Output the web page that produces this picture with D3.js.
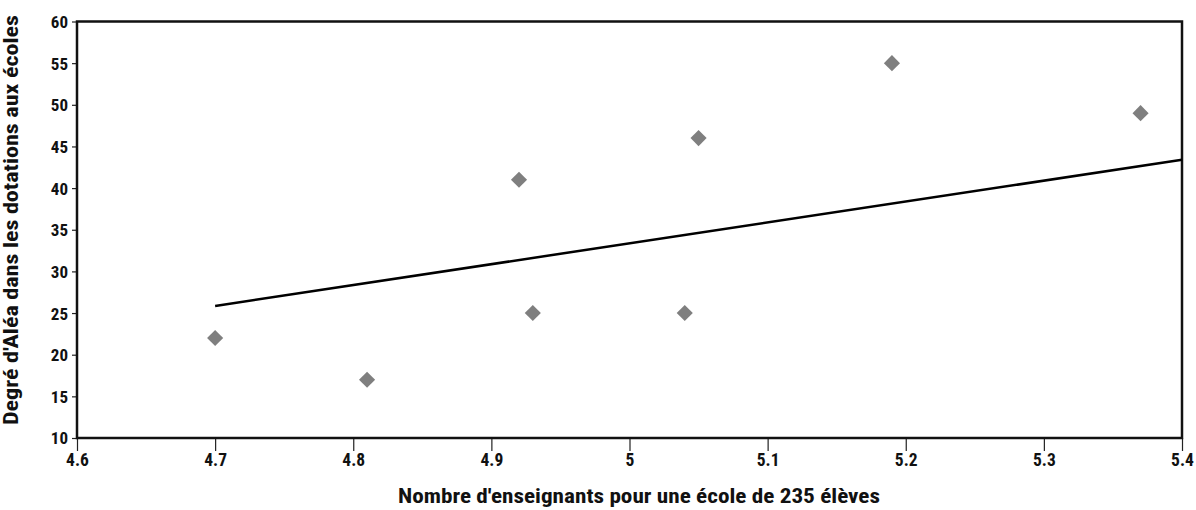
<!DOCTYPE html>
<html>
<head>
<meta charset="utf-8">
<script src="https://cdn.jsdelivr.net/npm/d3@7"></script>
<style>
  body { margin: 0; background: #fff; }
  svg text { font-family: "Liberation Sans Narrow", "Roboto Condensed", "Arial Narrow", "Liberation Sans", sans-serif; font-weight: bold; fill: #111; }
</style>
</head>
<body>
<div class="chart"></div>
<script>
// teachers per school of 235 pupils vs randomness in school allocations
var teachers = [4.70, 4.81, 4.92, 4.93, 5.04, 5.05, 5.19, 5.37];
var randomness = [22, 17, 41, 25, 25, 46, 55, 49];
var trendX = [4.70, 5.40];
var trendY = [25.85, 43.4];
var xTicks = [4.6, 4.7, 4.8, 4.9, 5, 5.1, 5.2, 5.3, 5.4];
var yTicks = [10, 15, 20, 25, 30, 35, 40, 45, 50, 55, 60];

var chart = {
  width: 1196,
  height: 510,
  margin: {top: 21.5, right: 14, bottom: 72, left: 77},
  draw(){
    var m = chart.margin;
    var svg = d3.select('.chart').append('svg')
      .attr('width', chart.width)
      .attr('height', chart.height);

    var x = d3.scaleLinear().domain([4.6, 5.4]).range([m.left, chart.width - m.right]);
    var y = d3.scaleLinear().domain([10, 60]).range([chart.height - m.bottom, m.top]);

    // x axis, long ticks hanging below the frame
    var gx = svg.append('g')
      .attr('transform', 'translate(0,' + y(10) + ')')
      .call(d3.axisBottom(x).tickValues(xTicks).tickSize(13).tickPadding(3)
        .tickFormat(function(d){ return d3.format('')(+d.toFixed(1)); }));
    gx.select('.domain').remove();
    gx.selectAll('.tick line').attr('stroke', '#222').attr('stroke-width', 1.2);
    gx.selectAll('.tick text').attr('font-size', 17.5);

    var gy = svg.append('g')
      .attr('transform', 'translate(' + x(4.6) + ',0)')
      .call(d3.axisLeft(y).tickValues(yTicks).tickSize(5).tickPadding(4));
    gy.select('.domain').remove();
    gy.selectAll('.tick line').attr('stroke', '#222').attr('stroke-width', 1.2);
    gy.selectAll('.tick text').attr('font-size', 17).attr('dy', '0.35em');

    // frame
    svg.append('rect')
      .attr('x', x(4.6)).attr('y', y(60))
      .attr('width', x(5.4) - x(4.6))
      .attr('height', y(10) - y(60))
      .attr('fill', 'none')
      .attr('stroke', '#111')
      .attr('stroke-width', 2.5);

    // trend line
    svg.append('line')
      .attr('x1', x(trendX[0])).attr('y1', y(trendY[0]))
      .attr('x2', x(trendX[1])).attr('y2', y(trendY[1]))
      .attr('stroke', '#000')
      .attr('stroke-width', 2.5);

    // diamonds
    svg.append('g').selectAll('path')
      .data(teachers)
      .join('path')
      .attr('d', d3.symbol(d3.symbolSquare, 130))
      .attr('transform', function(d, i){ return 'translate(' + x(d) + ',' + y(randomness[i]) + ') rotate(45)'; })
      .attr('fill', '#7f7f7f');

    // axis titles
    svg.append('text')
      .attr('x', 639)
      .attr('y', 503)
      .attr('text-anchor', 'middle')
      .attr('font-size', 20)
      .attr('textLength', 482)
      .attr('lengthAdjust', 'spacingAndGlyphs')
      .text("Nombre d'enseignants pour une école de 235 élèves");

    svg.append('text')
      .attr('transform', 'translate(18,220) rotate(-90)')
      .attr('text-anchor', 'middle')
      .attr('font-size', 20)
      .attr('textLength', 410)
      .attr('lengthAdjust', 'spacingAndGlyphs')
      .text("Degré d'Aléa dans les dotations aux écoles");
  }
};

document.addEventListener('DOMContentLoaded', function(event){
  chart.draw();
});
</script>
</body>
</html>
